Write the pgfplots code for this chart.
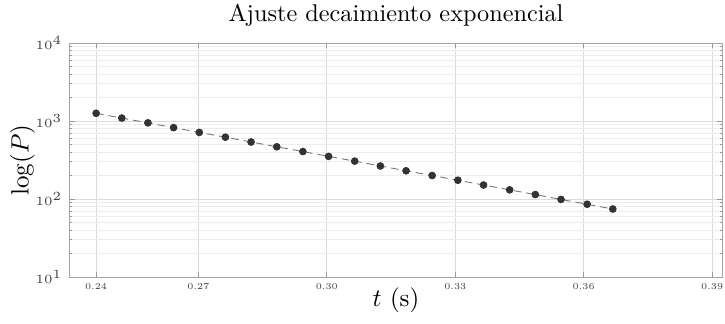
\documentclass[border=0pt]{standalone}
\usepackage{pgfplots}
\pgfplotsset{compat=1.18}
\usetikzlibrary{calc}
\begin{document}
\begin{tikzpicture}
\begin{axis}[
  name=ax,
  scale only axis,
  width=260.8pt, height=93.6pt,
  xmin=0.24, xmax=0.3923,
  ymode=log, ymin=10, ymax=10000,
  xtick={0.2461,0.27,0.30,0.33,0.36,0.39},
  xticklabels={0.24,0.27,0.30,0.33,0.36,0.39},
  minor x tick num=4,
  ytick={10,100,1000,10000},
  tick label style={font=\fontsize{3.6}{4.5}\selectfont, text=black!75},
  xticklabel style={yshift=1pt},
  yticklabel style={xshift=0.5pt},
  tick align=inside,
  major tick length=2pt, minor tick length=1pt,
  grid=both,
  major grid style={black!14, line width=0.3pt},
  minor grid style={black!7, line width=0.25pt},
  axis line style={black!35, line width=0.4pt},
  every tick/.style={black!40, line width=0.3pt},
  every axis title shift=0pt,
  title={Ajuste decaimiento exponencial},
  title style={font=\fontsize{9.7}{11}\selectfont, at={(axis description cs:0.5,1.09)}, anchor=base},
  xlabel={$t$ (s)},
  ylabel={$\log(P)$},
  label style={font=\fontsize{10}{12}\selectfont},
  xlabel style={at={(axis description cs:0.5,-0.098)}, anchor=center},
  ylabel style={at={(axis description cs:-0.073,0.5)}, anchor=center},
]
\addplot[black!55, densely dashed, line width=0.35pt,
  mark=*, mark size=1.35pt, mark options={solid, fill=black!80, draw=black!80}]
coordinates {
(0.2461,1256) (0.2521,1090) (0.2582,947) (0.2642,822) (0.2702,714)
(0.2763,620) (0.2823,538) (0.2883,467) (0.2944,406) (0.3004,352)
(0.3065,306) (0.3125,265) (0.3185,230) (0.3246,200) (0.3306,174)
(0.3366,151) (0.3427,131) (0.3487,114) (0.3547,98.7) (0.3608,85.7)
(0.3668,74.4)
};
\end{axis}
\pgfresetboundingbox
\path ($(ax.south west)+(-28pt,-18.4pt)$) rectangle ($(ax.north east)+(1.2pt,17.2pt)$);
\end{tikzpicture}
\end{document}
